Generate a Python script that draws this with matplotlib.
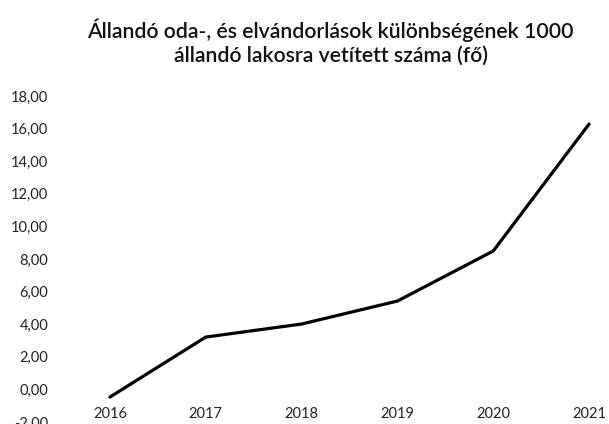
import matplotlib.pyplot as plt
from matplotlib.ticker import FuncFormatter, MultipleLocator

evek = ['2016', '2017', '2018', '2019', '2020', '2021']
ertekek = [-0.47, 3.21, 4.01, 5.42, 8.49, 16.28]

cim = 'Állandó oda-, és elvándorlások különbségének 1000\nállandó lakosra vetített száma (fő)'

plt.rcParams['font.family'] = ['Lato', 'DejaVu Sans']

fig = plt.figure(figsize=(6.09, 4.24), dpi=100)
ax = fig.add_axes([62 / 609, 2 / 424, 575 / 609, 326 / 424])

x = list(range(len(evek)))
ax.plot(x, ertekek, color='black', linewidth=2.3, solid_joinstyle='round', solid_capstyle='round')

ax.set_xlim(-0.5, len(evek) - 0.5)
ax.set_ylim(-2, 18)
ax.yaxis.set_major_locator(MultipleLocator(2))
ax.yaxis.set_major_formatter(FuncFormatter(lambda v, p: f'{v:.2f}'.replace('.', ',')))
ax.set_xticks(x)
ax.set_xticklabels(evek)

for s in ['top', 'right', 'left']:
    ax.spines[s].set_visible(False)
ax.spines['bottom'].set_position(('data', 0))
ax.spines['bottom'].set_visible(False)
ax.tick_params(axis='both', length=0, labelsize=10.5, colors='#222222')
ax.tick_params(axis='x', pad=12.5)
ax.tick_params(axis='y', pad=10)

fig.text(0.543, 0.90, cim, ha='center', va='center', fontsize=15.3, fontweight='semibold',
         linespacing=1.25, color='#111111')

fig.savefig('out.png', dpi=100)
